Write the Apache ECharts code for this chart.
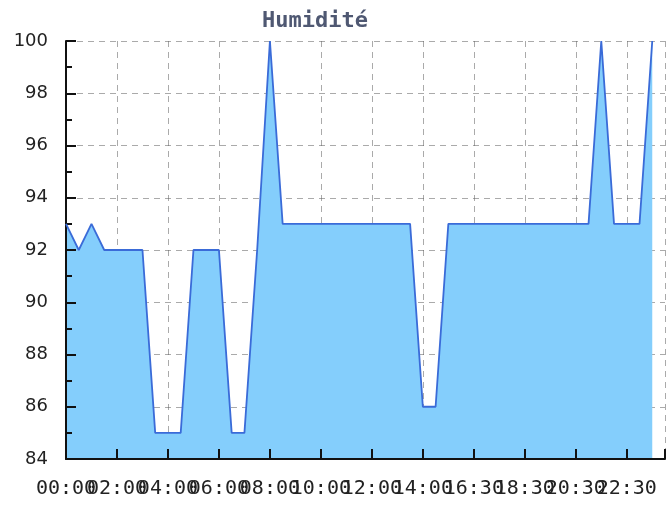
<!DOCTYPE html>
<html>
<head>
<meta charset="utf-8">
<script src="https://cdn.jsdelivr.net/npm/echarts@6/dist/echarts.min.js"></script>
<style>
  html, body { margin: 0; padding: 0; background: #fff; }
  #main { width: 668px; height: 505px; }
</style>
</head>
<body>
<div id="main"></div>
<script>
    // heures des mesures (axe des categories)
    var heures = ['00:00','00:30','01:00','01:30','02:00','02:30','03:00','03:30',
                  '04:00','04:30','05:00','05:30','06:00','06:30','07:00','07:30',
                  '08:00','08:30','09:00','09:30','10:00','10:30','11:00','11:30',
                  '12:00','12:30','13:00','13:30','14:00','14:30','15:00','16:00',
                  '16:30','17:00','17:30','18:00','18:30','19:00','19:30','20:00',
                  '20:30','21:00','21:30','22:00','22:30','23:00','23:30'];
    // humidite en %
    var humidite = [93,92,93,92,92,92,92,85,85,85,92,92,92,85,85,92,
                    100,93,93,93,93,93,93,93,93,93,93,93,86,86,93,93,
                    93,93,93,93,93,93,93,93,93,93,100,93,93,93,100];
    var titre = 'Humidité';

    var labelStyle = {
        margin: 20,
        hideOverlap: false,
        fontFamily: 'DejaVu Sans Mono',
        fontSize: 20,
        color: '#222'
    };

    var myChart = echarts.init(document.getElementById('main'));

    myChart.setOption({
        animation: false,
        title: {
            text: titre,
            left: 257,
            top: 5,
            textStyle: {
                fontFamily: 'DejaVu Sans Mono',
                fontWeight: 'bold',
                fontSize: 22,
                color: '#4f5872'
            }
        },
        grid: {
            left: 66,
            right: 3,
            top: 41,
            bottom: 46
        },
        xAxis: [
            {
                type: 'category',
                data: heures,
                boundaryGap: false,
                max: 47,
                position: 'bottom',
                z: 3,
                axisLine: { lineStyle: { color: '#111', width: 2 } },
                axisTick: { inside: true, length: 10, interval: 3, lineStyle: { color: '#111', width: 2 } },
                axisLabel: Object.assign({ interval: 3, showMinLabel: false, showMaxLabel: true }, labelStyle),
                splitLine: {
                    show: true,
                    interval: 3,
                    lineStyle: { color: 'rgba(100,100,100,0.55)', type: [6, 5], width: 1 }
                }
            },
            {
                // seulement pour le premier libelle (00:00)
                type: 'category',
                data: heures,
                boundaryGap: false,
                max: 47,
                position: 'bottom',
                offset: 0,
                z: 3,
                axisLine: { show: false },
                axisTick: { show: false },
                splitLine: { show: false },
                axisLabel: Object.assign({
                    showMinLabel: true,
                    interval: function (idx) { return idx === 0; }
                }, labelStyle)
            }
        ],
        yAxis: {
            type: 'value',
            min: 84,
            max: 100,
            interval: 2,
            z: 3,
            axisLine: { show: true, lineStyle: { color: '#111', width: 2 } },
            axisTick: { show: true, inside: true, length: 10, lineStyle: { color: '#111', width: 2 } },
            minorTick: { show: true, splitNumber: 2, length: 6, lineStyle: { color: '#111', width: 2 } },
            axisLabel: {
                margin: 18,
                fontFamily: 'DejaVu Sans',
                fontSize: 18,
                color: '#222'
            },
            splitLine: {
                show: true,
                lineStyle: { color: 'rgba(100,100,100,0.55)', type: [6, 5], width: 1 }
            }
        },
        series: [
            {
                name: titre,
                type: 'line',
                data: humidite,
                showSymbol: false,
                symbol: 'none',
                lineStyle: { color: '#3a6bd8', width: 1.8 },
                areaStyle: { color: '#84cefc', opacity: 1, origin: 'start' }
            }
        ]
    });
</script>
</body>
</html>
